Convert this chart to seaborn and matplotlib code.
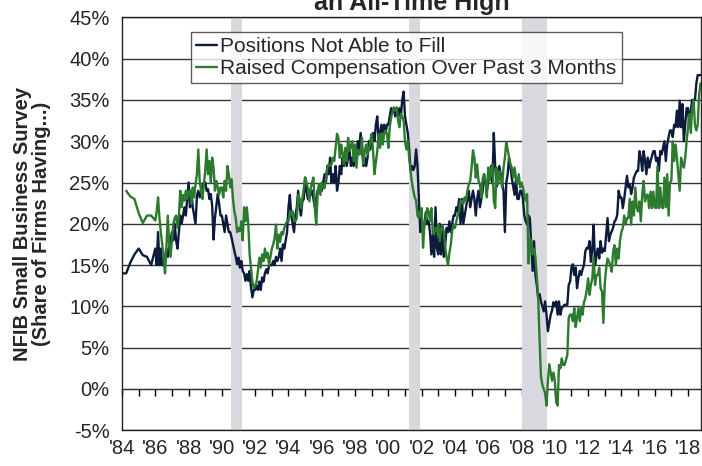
import numpy as np
import pandas as pd
import matplotlib
matplotlib.use("Agg")
import matplotlib.pyplot as plt
import seaborn as sns

# ---------- data (% of firms) ----------
# 1984-85 survey was quarterly
fill_q_years = [1984.0, 1984.25, 1984.5, 1984.75, 1985.0, 1985.25, 1985.5, 1985.75]
fill_q = [14, 14, 15.3, 16.3, 17, 16.2, 16, 15]
comp_q_years = [1984.25, 1984.5, 1984.75, 1985.0, 1985.25, 1985.5, 1985.75]
comp_q = [24, 23.3, 23, 21.3, 20.1, 21, 21]

# monthly from Jan 1986 to Oct 2018
fill_monthly = [
    17, 15, 19, 15, 17, 15, 15, 16, 17, 16, 17, 18,            # 1986
    19, 18, 20, 18, 17, 19, 21, 20, 21, 22, 21, 23,            # 1987
    25, 22, 24, 22, 21, 20, 23.4, 24, 23.2, 23.8, 24.6, 25,    # 1988
    25, 24, 24.2, 23, 23.6, 22.2, 18.1, 20.7, 22.2, 23.6, 22.4, 21,
    21, 20, 19, 21, 20, 19, 19, 18.3, 17.5, 16.7, 16, 15.1,    # 1990
    15.9, 14.7, 15.5, 14.3, 14, 13.1, 13.9, 13.1, 14.3, 12.3, 11.1, 12,
    12, 12.5, 12, 13, 12, 13.5, 13, 14, 14.5, 14, 15, 15,
    15, 15.5, 15, 16, 15.5, 16, 17, 15.5, 17.5, 17, 18, 19,
    22, 23.5, 21, 20, 19, 21, 22, 24, 22, 21, 22.7, 23,        # 1994
    25.6, 24, 23, 24, 23.5, 24, 23, 22, 23, 24, 24.4, 24,
    24, 25, 26, 25, 27, 26, 28, 25, 26, 25, 27, 24,
    25, 27, 26, 28, 27, 29, 27, 28, 29, 27, 28, 27,
    29, 28, 30, 29, 31, 29, 27, 28, 27, 28, 30, 29,            # 1998
    30, 31, 30, 32, 33, 30, 31, 32, 31, 32, 31, 32,
    32, 33, 34, 33.5, 34, 33, 34, 33, 34, 33, 35, 36,          # 2000
    33, 32, 31, 29, 26.5, 27, 26.5, 27, 29, 27, 23, 19,
    20.7, 19, 20, 21.4, 20, 20.3, 19, 16.3, 18.7, 16, 22, 17,
    16.3, 20, 16.3, 19.7, 16, 17.5, 19.5, 19, 20.3, 19, 20, 21,
    21, 22, 21.5, 23, 20, 23, 20, 21, 22, 23, 24, 22,          # 2004
    23, 24, 23, 21, 23, 24, 22, 23, 24, 26, 25, 24,
    25, 26, 27, 25, 31, 27, 24.5, 25, 27, 26, 25, 24,
    19, 25, 26, 28, 27, 25.5, 24.5, 23.5, 25.5, 23, 23, 24,
    24, 23, 21, 20.3, 19.9, 21, 20.7, 17.5, 14.3, 17.9, 13.8, 12.6,  # 2008
    11, 11.5, 10.6, 10, 9.4, 10.6, 9, 7, 8, 9, 9.5, 10.5,
    10, 10.6, 9, 10.6, 9, 9.8, 10, 10.2, 10.2, 10.2, 12.6, 13,        # 2010
    14.7, 15.1, 13.8, 14.7, 12.2, 13.4, 14.3, 13.8, 14.5, 15, 16.7, 17.1,
    17, 17.9, 15.4, 17, 19.9, 15, 16.2, 17, 15.8, 17.9, 16.5, 17,
    16.7, 18.7, 20.7, 17.9, 18.7, 19.1, 19.5, 20.3, 20.5, 21.1, 24, 23.2,
    23.2, 21.9, 23, 24.4, 25.8, 24.4, 24.8, 23.6, 24.4, 25.6, 26, 26.4,  # 2014
    26.4, 28.8, 28, 26.4, 28.8, 27.6, 26, 28, 26.8, 27.6, 28.2, 28.8,
    28.8, 27.6, 28, 26.4, 28.8, 28.4, 29.2, 30, 27.6, 29.6, 30.5, 31.3,
    31.3, 30.5, 32, 31.7, 33.7, 31.7, 34.9, 31.7, 34.5, 30, 32, 34,
    34, 31.7, 33.7, 35, 35, 35, 37, 38, 38, 38,                         # 2018
]

comp_monthly = [
    20.4, 21.5, 23.2, 20.7, 19, 17.5, 16, 14, 17, 21, 17.5, 16,         # 1986
    18, 20, 20.7, 21, 19.5, 21, 24, 22, 23.5, 22.8, 24, 23,
    24, 24, 22.4, 24.4, 23.2, 24.8, 26, 29, 25.2, 24, 23, 24.8,
    26.4, 29, 26, 27.6, 25, 28, 26.8, 24, 25.2, 24.4, 23.5, 24.4,
    24.4, 23.2, 25.2, 24, 27, 26, 24.4, 25.4, 23, 21.5, 20.7, 19,       # 1990
    19.5, 19.1, 20.3, 18, 22, 20.3, 22, 20, 16.3, 14.6, 13, 12.2,
    12.5, 13, 14.3, 15.9, 14.7, 16.3, 15.5, 17, 15.9, 16.5, 15, 16,
    17, 17.5, 18.3, 19.9, 17, 18.7, 17.8, 19, 18.7, 19.5, 20, 20.3,
    20.3, 21.5, 21.1, 21.5, 20.5, 20.3, 20.7, 23.5, 23.1, 21.9, 23, 24.3,
    25.6, 25, 24.3, 22.7, 24.3, 25, 25.6, 21.9, 19.9, 23.5, 24.8, 23.5,
    25, 24.5, 24.3, 25.6, 26.8, 27.2, 27, 27.2, 28, 27.6, 29.2, 30.9,
    30.4, 28, 29.6, 28.5, 27.2, 29.2, 27.6, 30.4, 28.8, 29.5, 30, 27.6,
    29.6, 26.8, 29, 28.4, 28.5, 30.4, 27.2, 28.8, 29.6, 28.4, 29, 30,
    30.9, 28.8, 26, 27.5, 28.8, 30.9, 29.2, 30.9, 29.6, 31, 31.3, 30.9,
    29.2, 31.7, 32.9, 33.5, 34.1, 33.7, 34.1, 32.5, 31.7, 33.3, 33, 32.5,  # 2000
    30, 29, 30, 28, 26.4, 25, 24, 23.2, 22.8, 21, 20.7, 21.5,
    21.9, 17.1, 20, 20.7, 21.9, 21.5, 20.3, 21.9, 19, 18.7, 19.5, 19.1,
    19.9, 17.9, 19.5, 19.5, 19.1, 17.1, 15.9, 15, 16.5, 17.5, 19.1, 19.9,
    19.5, 20.3, 21, 21.5, 22.8, 22.8, 22.4, 23.2, 22.8, 24, 24.8, 25.2,
    26.8, 28.9, 28, 25.6, 27.2, 25.2, 24.8, 23.2, 25.5, 26, 25.2, 23.2,
    26.8, 25.2, 26.5, 27.2, 22.8, 21.9, 26.8, 24.8, 26.4, 25.5, 24.4, 26.8,
    28, 29.9, 29, 28, 27.2, 26.8, 25.6, 26.8, 25.5, 24.8, 26, 24.4,
    25, 24.4, 23.5, 22.8, 23.6, 15.2, 18.3, 17.9, 16.3, 17, 16, 13.6,   # 2008
    11, 6, 1.5, 0.5, 0, -0.5, -2, 1, 3, 2, 1, 2,
    1, -1.6, -2, 2.9, 2.5, 3.7, 2.9, 2.9, 3.5, 4.1, 8.6, 9,             # 2010
    9, 8.2, 9.8, 7.5, 8.6, 9.8, 8.2, 9.8, 9, 10.5, 11, 12,
    13.4, 11.4, 12.6, 13.4, 15.9, 12.6, 13.8, 13.8, 14.7, 12.2, 11.8, 8,
    12.8, 14.6, 15.8, 15.4, 15, 14.2, 16.6, 17.4, 15, 17, 15.8, 18,
    19, 19.5, 21, 19.9, 20.7, 20.7, 23, 19.9, 22.7, 21, 24.4, 22,       # 2014
    21.5, 22.7, 20.3, 23.5, 25.2, 22.7, 23.5, 23.5, 21.9, 23.9, 21.9, 23.9,
    22, 21.9, 27, 21.9, 24.4, 22, 21.9, 25.6, 22, 26, 21, 25,
    25.2, 30, 27.6, 29.6, 28, 26, 24, 28, 27.2, 26.8, 28, 30,
    31.7, 33.3, 31, 34, 35, 32, 31.3, 32, 35.7, 37,                     # 2018
]

recessions = [(1990.55, 1991.2), (2001.24, 2001.9), (2008.02, 2009.53)]

series_names = ["Positions Not Able to Fill", "Raised Compensation Over Past 3 Months"]
colors = ["#0c1a3c", "#2b7a2e"]

yticks = list(range(-5, 50, 5))
ytick_labels = [f"{v}%" for v in yticks]
xticks = list(range(1984, 2019, 2))
xtick_labels = [f"'{y % 100:02d}" for y in xticks]

# ---------- frame ----------
months = pd.date_range("1986-01-01", periods=len(fill_monthly), freq="MS")
month_x = months.year + (months.month - 1) / 12

df = pd.concat([
    pd.DataFrame({"year": np.r_[fill_q_years, month_x], "pct": np.r_[fill_q, fill_monthly],
                  "series": series_names[0]}),
    pd.DataFrame({"year": np.r_[comp_q_years, month_x], "pct": np.r_[comp_q, comp_monthly],
                  "series": series_names[1]}),
])

sns.set_style("white")
plt.rcParams["font.family"] = ["Liberation Sans", "DejaVu Sans"]

fig = plt.figure(figsize=(7.02, 4.66), dpi=100)
ax = fig.add_axes([122 / 702, 1 - 430.3 / 466, 579 / 702, 413 / 466])

for start, end in recessions:
    ax.axvspan(start, end, color="#d9d8de", lw=0, zorder=1)

sns.lineplot(data=df, x="year", y="pct", hue="series", hue_order=series_names,
             palette=colors, linewidth=1.7, estimator=None, ax=ax, zorder=3)

ax.set_xlim(1984.0, 2018.78)
ax.set_ylim(-5, 45)
ax.set_axisbelow(True)
ax.yaxis.grid(True, color="#333333", lw=1.0)
ax.xaxis.grid(False)

ax.set_yticks(yticks)
ax.set_yticklabels(ytick_labels, fontsize=14.5)
ax.tick_params(axis="y", length=6, width=1, direction="out", pad=3, color="black")
ax.set_xticks(xticks)
ax.set_xticklabels(xtick_labels, fontsize=14.5)
ax.tick_params(axis="x", length=0, pad=6)
for s in ax.spines.values():
    s.set_color("#222222")
    s.set_linewidth(1.0)

# year tick marks along the 0% line
sec = ax.secondary_xaxis(0.1)
sec.set_xticks(list(range(1984, 2019)))
sec.tick_params(axis="x", length=5, width=1, direction="out", labelbottom=False, labeltop=False, color="black")
sec.spines["bottom"].set_color("black")

ax.set_xlabel("")
ax.set_ylabel("NFIB Small Business Survey\n(Share of Firms Having...)", fontsize=14.5,
              fontweight="bold", linespacing=1.0)
ax.yaxis.set_label_coords(-0.123, 0.5)

handles, labels = ax.get_legend_handles_labels()
leg = ax.legend(handles, labels, loc="upper left", bbox_to_anchor=(0.119, 0.964),
                borderaxespad=0, frameon=True, fancybox=False, fontsize=15,
                handlelength=1.0, handletextpad=0.15, borderpad=0.25, labelspacing=0.12)
leg.get_frame().set_edgecolor("#333333")
leg.get_frame().set_linewidth(1.0)

fig.text(412 / 702, 1 - 10 / 466, "an All-Time High", ha="center", va="baseline",
         fontsize=18, fontweight="bold")

fig.savefig("out.png", dpi=100)
